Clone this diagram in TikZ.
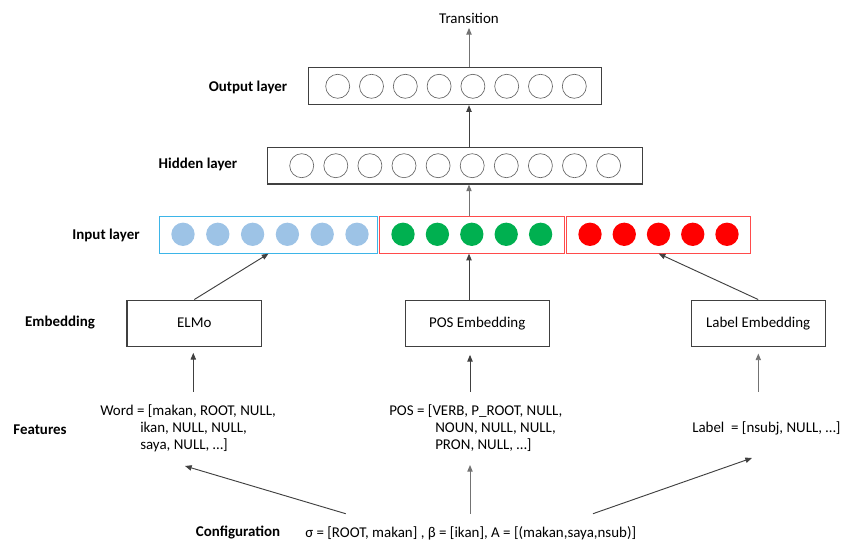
\documentclass[tikz,border=0pt]{standalone}
\usepackage{fontspec}
\setmainfont{Carlito}
\usetikzlibrary{arrows.meta,positioning}
\definecolor{elmoblue}{HTML}{9DC3E6}
\definecolor{elmoframe}{HTML}{3DB5E8}
\definecolor{posgreen}{HTML}{00B050}
\definecolor{labelred}{HTML}{FF0000}
\definecolor{redframe}{HTML}{FF4B4B}
\definecolor{edge}{HTML}{404040}
\tikzset{
  layer/.style={draw=edge,line width=0.8pt,minimum height=27.5pt,inner sep=0pt},
  unit/.style={circle,draw=black!60,line width=0.5pt,minimum size=18pt,inner sep=0pt},
  dot/.style={circle,minimum size=17.5pt,inner sep=0pt},
  embbox/.style={draw=edge,line width=0.8pt,minimum height=34.7pt,inner sep=0pt},
  tag/.style={font=\fontsize{11.2}{12.75}\selectfont\bfseries},
  feat/.style={align=left,anchor=north west,inner sep=0pt},
  arr/.style={-{Triangle[length=5pt,width=4pt]},draw=edge,line width=0.7pt},
  grayarr/.style={arr,draw=black!55}
}

\begin{document}
\begin{tikzpicture}[x=0.75pt,y=-0.75pt,font=\fontsize{11.2}{12.75}\selectfont]
    \useasboundingbox (0,0) rectangle (845,541);
    \node[layer,minimum width=220.3pt] (output) at (455,86.3) {};
    \foreach \i in {0,...,7}
        \node[unit] (o\i) at (337.7+33.8*\i,86.3) {};
    \node[layer,minimum width=281.5pt] (hidden) at (455,165.7) {};
    \foreach \i in {0,...,9}
        \node[unit] (h\i) at (301.7+34.1*\i,165.7) {};
    \node[layer,draw=elmoframe,minimum width=163.8pt] (elmoin) at (268.5,234.8) {};
    \foreach \i in {0,...,5}
        \node[dot,fill=elmoblue] (b\i) at (183+34.8*\i,234.3) {};
    \node[layer,draw=redframe,minimum width=138.75pt] (posin) at (471.8,234.8) {};
    \foreach \i in {0,...,4}
        \node[dot,fill=posgreen] (g\i) at (403+34.4*\i,234.3) {};
    \node[layer,draw=redframe,minimum width=138pt] (labelin) at (658.7,234.8) {};
    \foreach \i in {0,...,4}
        \node[dot,fill=labelred] (r\i) at (590+34.25*\i,234.3) {};
    \node[embbox,minimum width=101pt] (elmo) at (194.3,323.2) {ELMo};
    \node[embbox,minimum width=107.8pt] (posemb) at (477.2,323.2) {POS Embedding};
    \node[embbox,minimum width=100.7pt] (labelemb) at (758.2,323.2) {Label Embedding};
    \node[feat] (word) at (100,404) {Word = [makan, ROOT, NULL,\\\hspace*{30pt}ikan, NULL, NULL,\\\hspace*{30pt}saya, NULL, …]};
    \node[feat] (posfeat) at (389,404) {POS = [VERB, P\_ROOT, NULL,\\\hspace*{34.5pt}NOUN, NULL, NULL,\\\hspace*{34.5pt}PRON, NULL, …]};
    \node[anchor=west,inner sep=0pt] (labelfeat) at (692,428) {Label\ \ = [nsubj, NULL, …]};
    \node (trans) at (469,18) {Transition};
    \node[tag] (outtag) at (248,87) {Output layer};
    \node[tag] (hidtag) at (198,164) {Hidden layer};
    \node[tag] (intag) at (106,235) {Input layer};
    \node[tag] (embtag) at (60,323) {Embedding};
    \node[tag] (feattag) at (40,430) {Features};
    \node[tag] (cfgtag) at (238,533) {Configuration};
    \node[anchor=west,inner sep=0pt] (cfg) at (305,533) {σ = [ROOT, makan] , β = [ikan], A = [(makan,saya,nsub)]};
    \coordinate (wordup) at (193.3,391.7);
    \coordinate (posup) at (470,391.7);
    \coordinate (labelup) at (758.3,391.7);
    \coordinate (cfgl) at (345.7,513.7);
    \coordinate (cfgm) at (470,513.7);
    \coordinate (cfgr) at (593,513.7);
    \coordinate (wordend) at (185,466);
    \coordinate (posend) at (470,465);
    \coordinate (labelend) at (752,458);
    \draw[grayarr] (output.north -| trans.south) -- (trans.south);
    \draw[arr] (hidden.north -| trans.south) -- (output.south -| trans.south);
    \draw[grayarr] (posin.north -| trans.south) -- (hidden.south -| trans.south);
    \draw[arr] (posemb.north -| trans.south) -- (posin.south -| trans.south);
    \draw[arr] (elmo.north) -- (elmoin.south);
    \draw[arr] (labelemb.north) -- (labelin.south);
    \draw[arr,shorten >=4.5pt] (wordup) -- (wordup |- elmo.south);
    \draw[arr,shorten >=6pt] (posup) -- (posup |- posemb.south);
    \draw[grayarr,shorten >=5pt] (labelup) -- (labelup |- labelemb.south);
    \draw[arr] (cfgl) -- (wordend);
    \draw[grayarr] (cfgm) -- (posend);
    \draw[arr] (cfgr) -- (labelend);
\end{tikzpicture}
\end{document}
